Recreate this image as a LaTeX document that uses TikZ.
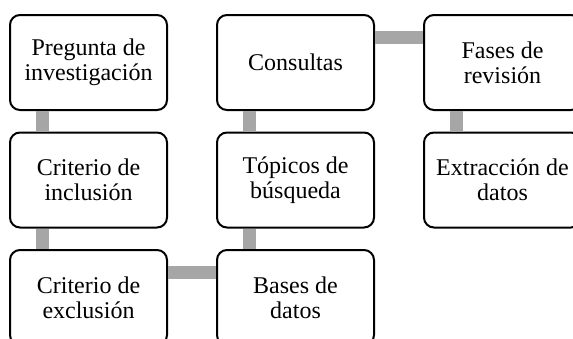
\documentclass[tikz,border=0pt]{standalone}
\usepackage{fontspec}
\setmainfont{Liberation Serif}
\usepackage{tikz}
\usetikzlibrary{calc}

\begin{document}
\begin{tikzpicture}[
        x=1pt, y=-1pt,
        paso/.style={draw=black, line width=2pt, fill=white, rounded corners=10pt,
                     minimum width=157pt, minimum height=95pt, align=center,
                     inner sep=0pt, font=\fontsize{24}{25}\selectfont},
        enlace/.style={draw=black!35, line width=13pt},
    ]
    \useasboundingbox (0, 0) rectangle (573, 338);
    \clip (0, 0) rectangle (573, 338);

    \node[paso] (pregunta)   at (88.5, 62.5)  {Pregunta de\\investigación};
    \node[paso] (inclusion)  at (88.5, 180.0) {Criterio de\\inclusión};
    \node[paso] (exclusion)  at (88.5, 297.5) {Criterio de\\exclusión};
    \node[paso] (consultas)  at (295.5, 62.5) {Consultas};
    \node[paso] (topicos)    at (295.5, 180.0) {Tópicos de\\búsqueda};
    \node[paso] (bases)      at (295.5, 297.5) {Bases de\\datos};
    \node[paso] (fases)      at (502.5, 62.5) {Fases de\\revisión};
    \node[paso] (extraccion) at (502.5, 180.0) {Extracción de\\datos};

    \draw[enlace] ($(pregunta.south west)+(33, 0)$) -- ($(inclusion.north west)+(33, 0)$);
    \draw[enlace] ($(inclusion.south west)+(33, 0)$) -- ($(exclusion.north west)+(33, 0)$);
    \draw[enlace] ($(exclusion.north east)+(0, 23)$) -- ($(bases.north west)+(0, 23)$);
    \draw[enlace] ($(bases.north west)+(33, 0)$) -- ($(topicos.south west)+(33, 0)$);
    \draw[enlace] ($(topicos.north west)+(33, 0)$) -- ($(consultas.south west)+(33, 0)$);
    \draw[enlace] ($(consultas.north east)+(0, 23)$) -- ($(fases.north west)+(0, 23)$);
    \draw[enlace] ($(fases.south west)+(33, 0)$) -- ($(extraccion.north west)+(33, 0)$);

\end{tikzpicture}
\end{document}
